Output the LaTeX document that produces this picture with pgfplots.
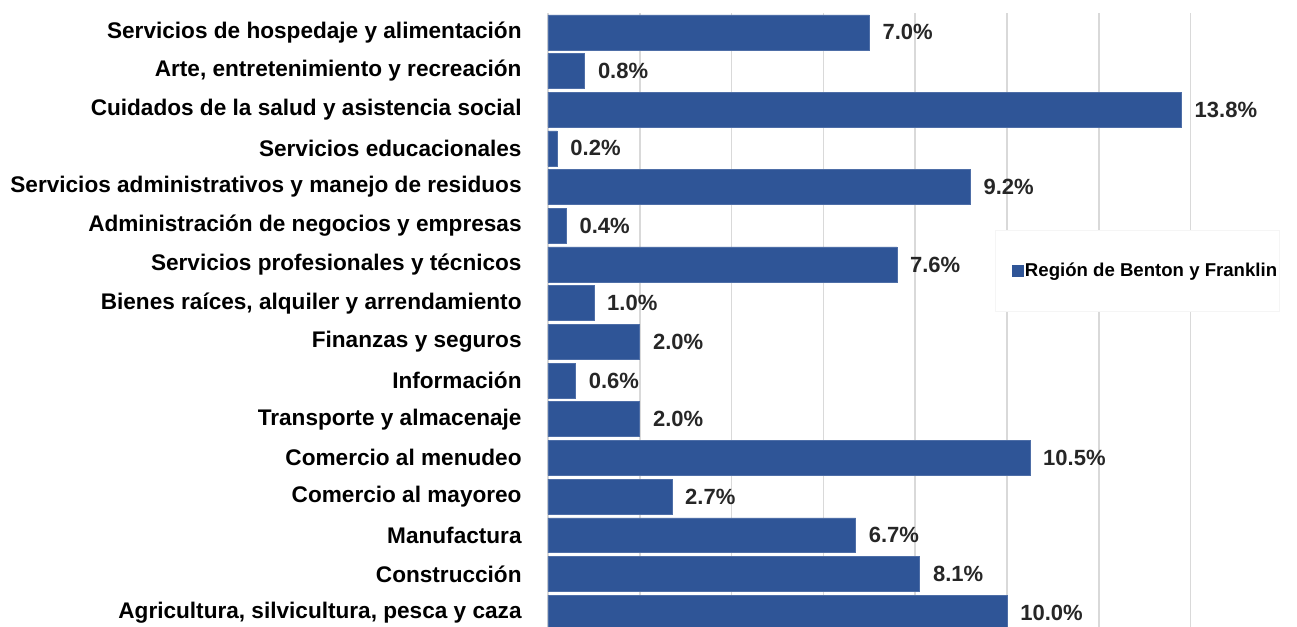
\documentclass[border=0pt]{standalone}
\usepackage{pgfplots}
\pgfplotsset{compat=1.18}
\usepackage{fontspec}
\setmainfont{Liberation Sans}
\definecolor{barblue}{HTML}{2F5597}
\definecolor{gridgray}{HTML}{D9D9D9}
\begin{document}
\begin{tikzpicture}
\useasboundingbox (-274pt,2.5pt) rectangle (374.5pt,316pt);
\clip (-274pt,2.5pt) rectangle (374.5pt,316pt);
\begin{axis}[
  scale only axis,
  width=321.3pt, height=309.5pt,
  at={(0pt,0pt)}, anchor=south west,
  xbar, bar width=0.904,
  xmin=0, xmax=14,
  ymin=-0.5, ymax=15.5,
  y dir=reverse,
  ytick={0,...,15},
  yticklabels={Servicios de hospedaje y alimentación,
    {Arte, entretenimiento y recreación},
    Cuidados de la salud y asistencia social,
    Servicios educacionales,
    Servicios administrativos y manejo de residuos,
    Administración de negocios y empresas,
    Servicios profesionales y técnicos,
    {Bienes raíces, alquiler y arrendamiento},
    Finanzas y seguros,
    Información,
    Transporte y almacenaje,
    Comercio al menudeo,
    Comercio al mayoreo,
    Manufactura,
    Construcción,
    {Agricultura, silvicultura, pesca y caza}},
  xtick={0,2,...,14},
  xticklabels={},
  xmajorgrids,
  grid style={gridgray, line width=0.75pt},
  axis line style={draw=none},
  major tick length=0pt,
  yticklabel style={font=\bfseries\fontsize{11.3}{13}\selectfont, anchor=east, inner sep=0pt, xshift=-13pt},
  nodes near coords={\pgfmathprintnumber[fixed,fixed zerofill,precision=1,assume math mode=true]{\pgfplotspointmeta}\%},
  nodes near coords style={font=\bfseries\fontsize{11}{13}\selectfont, anchor=west, inner sep=0pt, xshift=6.5pt, text=black!85},
  legend style={at={(rel axis cs:0.6956,0.5832)}, anchor=west, draw=gray!8, fill=white,
    font=\bfseries\fontsize{9.3}{11}\selectfont, inner xsep=0.5pt, inner ysep=14pt,
    nodes={inner xsep=0.5pt},
    /tikz/every even column/.append style={column sep=0pt}},
  legend image code/.code={\path (-8pt,0pt); \fill[barblue] (0pt,-2.75pt) rectangle (5.5pt,2.75pt);},
]
\addplot[fill=barblue, draw=barblue!85!white, line width=0.3pt] coordinates {
  (7.0,0) (0.8,1) (13.8,2) (0.2,3) (9.2,4) (0.4,5) (7.6,6) (1.0,7)
  (2.0,8) (0.6,9) (2.0,10) (10.5,11) (2.7,12) (6.7,13) (8.1,14) (10.0,15)};
\addlegendentry{Región de Benton y Franklin}
\end{axis}
\end{tikzpicture}
\end{document}
